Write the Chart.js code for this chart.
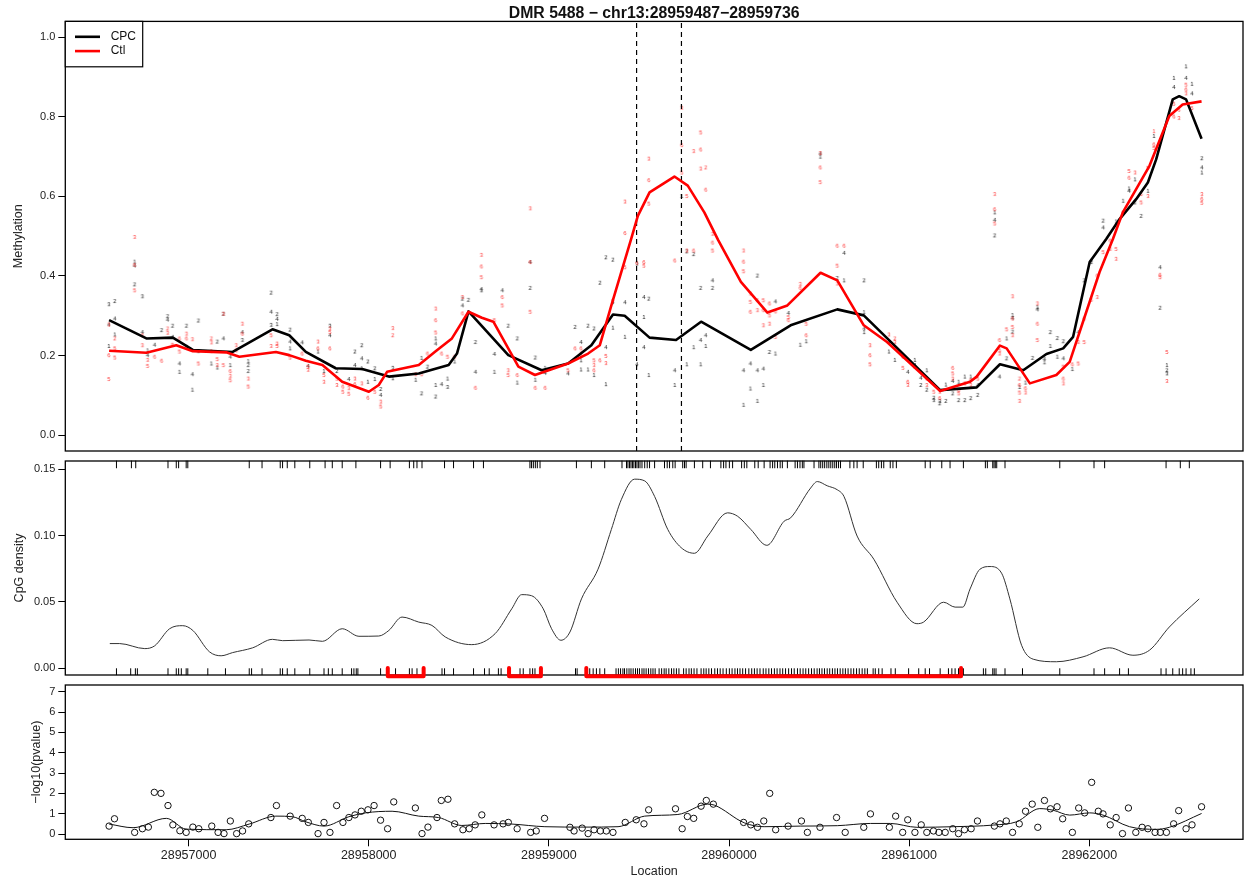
<!DOCTYPE html>
<html><head><meta charset="utf-8">
<script src="https://cdn.jsdelivr.net/npm/chart.js@4.4.0/dist/chart.umd.min.js"></script>
<style>
body{margin:0;background:#fff;width:1248px;height:879px;overflow:hidden;position:relative}
canvas{position:absolute;left:0}
</style>
</head><body>
<canvas id="c1" width="1248" height="456" style="top:0px"></canvas>
<canvas id="c2" width="1248" height="224" style="top:456px"></canvas>
<canvas id="c3" width="1248" height="199" style="top:680px"></canvas>
<script>
// ---------------- DATA ----------------
const titleText = 'DMR 5488 \u2212 chr13:28959487\u221228959736';
const dmrStart = 28959487, dmrEnd = 28959736;
const xTickValues = [28957000, 28958000, 28959000, 28960000, 28961000, 28962000];
const methTicks = [0, 0.2, 0.4, 0.6, 0.8, 1.0];
const methTickLabels = ['0.0', '0.2', '0.4', '0.6', '0.8', '1.0'];
const densTicks = [0, 0.05, 0.10, 0.15];
const densTickLabels = ['0.00', '0.05', '0.10', '0.15'];
const pvalTicks = [0, 1, 2, 3, 4, 5, 6, 7];
const pvalTickLabels = ['0', '1', '2', '3', '4', '5', '6', '7'];
const legendLabels = ['CPC', 'Ctl'];

// smoothed methylation (location, value)
const cpcSmooth = [[28956559,0.289],[28956766,0.243],[28956913,0.245],[28957024,0.214],[28957245,0.209],[28957466,0.266],[28957559,0.251],[28957651,0.209],[28957817,0.168],[28957964,0.166],[28958112,0.147],[28958278,0.155],[28958444,0.176],[28958490,0.205],[28958554,0.311],[28958775,0.201],[28958960,0.163],[28959107,0.180],[28959236,0.226],[28959356,0.303],[28959421,0.300],[28959559,0.245],[28959706,0.239],[28959845,0.285],[28960121,0.214],[28960342,0.276],[28960601,0.316],[28960748,0.301],[28961172,0.113],[28961375,0.120],[28961504,0.178],[28961633,0.163],[28961762,0.204],[28961855,0.218],[28961910,0.247],[28962002,0.435],[28962094,0.493],[28962168,0.543],[28962260,0.593],[28962325,0.635],[28962371,0.693],[28962463,0.844],[28962499,0.852],[28962537,0.844],[28962623,0.745]];
const ctlSmooth = [[28956559,0.212],[28956766,0.207],[28956932,0.226],[28957024,0.211],[28957209,0.208],[28957282,0.197],[28957485,0.209],[28957559,0.201],[28957651,0.187],[28957743,0.176],[28957853,0.134],[28958001,0.109],[28958056,0.126],[28958102,0.159],[28958278,0.176],[28958370,0.210],[28958462,0.243],[28958554,0.310],[28958628,0.295],[28958692,0.285],[28958831,0.172],[28958923,0.151],[28959107,0.180],[28959218,0.205],[28959283,0.226],[28959347,0.326],[28959457,0.493],[28959494,0.551],[28959559,0.610],[28959697,0.650],[28959771,0.627],[28959863,0.560],[28959940,0.490],[28960066,0.385],[28960213,0.308],[28960324,0.326],[28960508,0.408],[28960601,0.389],[28960748,0.276],[28960877,0.234],[28961172,0.111],[28961338,0.134],[28961375,0.147],[28961504,0.225],[28961541,0.218],[28961670,0.130],[28961817,0.151],[28961891,0.184],[28961965,0.285],[28962057,0.410],[28962131,0.493],[28962186,0.560],[28962334,0.677],[28962444,0.802],[28962518,0.831],[28962623,0.839]];

// per-sample values: [location, [values], sample labels]
const cpcSamples = [[28956558,[0.329,0.278,0.224],'341'],[28956591,[0.337,0.293,0.253],'241'],[28956701,[0.436,0.426,0.379],'142'],[28956744,[0.349,0.259],'34'],[28956773,[0.213,0.201],'14'],[28956812,[0.227],'4'],[28956851,[0.264],'2'],[28956884,[0.299,0.290],'24'],[28956912,[0.275,0.247],'24'],[28956950,[0.180,0.159],'41'],[28956989,[0.275,0.222],'23'],[28957022,[0.153,0.114],'41'],[28957055,[0.288,0.211],'23'],[28957127,[0.180],'1'],[28957160,[0.235,0.170],'21'],[28957194,[0.305,0.243],'24'],[28957232,[0.197,0.176],'41'],[28957299,[0.259,0.239],'43'],[28957332,[0.186,0.176,0.161],'122'],[28957459,[0.358,0.310,0.277],'243'],[28957492,[0.304,0.292,0.279],'241'],[28957564,[0.265,0.235,0.218],'241'],[28957631,[0.233],'4'],[28957664,[0.174],'4'],[28957719,[0.210],'1'],[28957752,[0.161],'1'],[28957785,[0.275,0.251],'34'],[28957824,[0.161],'2'],[28957890,[0.141],'4'],[28957924,[0.210,0.176],'24'],[28957962,[0.226,0.193,0.168],'241'],[28957996,[0.185,0.134],'21'],[28958034,[0.168,0.141],'21'],[28958067,[0.116,0.101],'24'],[28958134,[0.169,0.143],'31'],[28958261,[0.139],'1'],[28958294,[0.194,0.105],'12'],[28958327,[0.172],'2'],[28958372,[0.243,0.230,0.126,0.097],'1412'],[28958405,[0.128],'4'],[28958438,[0.142,0.121],'13'],[28958477,[0.185],'1'],[28958521,[0.343,0.326],'24'],[28958554,[0.340],'2'],[28958593,[0.234,0.159],'24'],[28958626,[0.367,0.364],'41'],[28958698,[0.204,0.159],'41'],[28958742,[0.364],'4'],[28958775,[0.275],'2'],[28958825,[0.243,0.132],'21'],[28958897,[0.435,0.370],'42'],[28958925,[0.195,0.139],'21'],[28958980,[0.169,0.156],'14'],[28959107,[0.155],'4'],[28959146,[0.272],'2'],[28959179,[0.234,0.188,0.165],'411'],[28959218,[0.275,0.165],'21'],[28959251,[0.268,0.151],'21'],[28959284,[0.383],'2'],[28959317,[0.447,0.221,0.128],'241'],[28959356,[0.441,0.334,0.270],'241'],[28959423,[0.334,0.247],'41'],[28959489,[0.431,0.178],'34'],[28959528,[0.347,0.297,0.221],'414'],[28959555,[0.343,0.151],'21'],[28959699,[0.163,0.126],'41'],[28959738,[0.601],'1'],[28959766,[0.462,0.178],'21'],[28959804,[0.455,0.221],'21'],[28959843,[0.370,0.239,0.178],'241'],[28959871,[0.251,0.224],'41'],[28959909,[0.389,0.370],'42'],[28960081,[0.163,0.076],'41'],[28960119,[0.180,0.117],'41'],[28960158,[0.401,0.163,0.086],'241'],[28960191,[0.167,0.126],'41'],[28960225,[0.209],'2'],[28960258,[0.336,0.205],'41'],[28960330,[0.307],'4'],[28960396,[0.227],'1'],[28960429,[0.236],'1'],[28960507,[0.708,0.700],'41'],[28960601,[0.395],'2'],[28960639,[0.458,0.389],'41'],[28960750,[0.389,0.309,0.268,0.259],'2141'],[28960888,[0.234,0.210],'41'],[28960921,[0.189],'1'],[28960993,[0.159],'4'],[28961032,[0.189,0.176],'14'],[28961065,[0.144,0.126],'42'],[28961098,[0.163,0.114],'12'],[28961137,[0.094,0.088],'23'],[28961170,[0.086,0.080],'32'],[28961204,[0.127,0.086],'12'],[28961242,[0.136,0.105],'42'],[28961275,[0.134,0.088],'12'],[28961309,[0.147,0.088],'12'],[28961342,[0.147,0.093],'12'],[28961381,[0.126,0.101],'42'],[28961475,[0.560,0.541,0.502],'142'],[28961502,[0.147],'4'],[28961541,[0.243,0.193],'12'],[28961574,[0.302,0.294,0.260],'142'],[28961613,[0.121],'1'],[28961646,[0.132],'1'],[28961685,[0.194],'2'],[28961712,[0.322,0.316],'14'],[28961751,[0.191,0.183],'41'],[28961784,[0.259,0.224],'21'],[28961823,[0.244,0.197],'21'],[28961856,[0.236,0.193],'24'],[28961906,[0.166],'1'],[28961939,[0.259],'4'],[28961972,[0.389],'2'],[28962011,[0.439,0.435],'41'],[28962077,[0.539,0.522],'24'],[28962149,[0.537],'1'],[28962188,[0.589],'1'],[28962221,[0.620,0.614],'14'],[28962254,[0.643,0.585],'12'],[28962288,[0.551],'2'],[28962326,[0.614],'1'],[28962359,[0.752],'1'],[28962393,[0.422,0.320],'42'],[28962431,[0.176,0.163,0.155],'123'],[28962470,[0.898,0.875],'14'],[28962537,[0.927,0.898],'14'],[28962570,[0.883,0.859],'14'],[28962625,[0.696,0.673,0.660],'241']];
const ctlSamples = [[28956558,[0.278,0.201,0.141],'365'],[28956591,[0.243,0.218,0.195],'255'],[28956701,[0.498,0.428,0.364],'365'],[28956744,[0.251,0.226],'63'],[28956773,[0.189,0.174],'35'],[28956812,[0.197],'6'],[28956851,[0.187],'6'],[28956884,[0.268,0.257],'23'],[28956912,[0.227],'5'],[28956950,[0.243,0.210],'65'],[28956989,[0.255,0.243],'36'],[28957022,[0.241],'3'],[28957055,[0.180],'5'],[28957127,[0.243,0.233,0.211],'236'],[28957160,[0.191,0.176],'53'],[28957194,[0.305,0.176],'35'],[28957232,[0.161,0.149,0.138],'635'],[28957265,[0.226,0.213],'36'],[28957299,[0.280,0.255],'36'],[28957332,[0.142,0.122],'35'],[28957459,[0.251,0.224],'53'],[28957492,[0.230,0.224],'35'],[28957564,[0.195],'5'],[28957631,[0.205],'6'],[28957664,[0.172,0.164],'53'],[28957719,[0.235,0.218],'36'],[28957752,[0.151,0.134],'53'],[28957785,[0.268,0.259,0.218],'356'],[28957824,[0.142,0.126],'53'],[28957857,[0.122,0.109],'65'],[28957890,[0.118,0.104],'35'],[28957924,[0.142,0.128],'36'],[28957962,[0.130],'3'],[28957996,[0.094],'6'],[28958034,[0.109],'5'],[28958067,[0.084,0.072],'35'],[28958134,[0.269,0.251],'32'],[28958261,[0.153],'3'],[28958294,[0.153],'5'],[28958327,[0.205],'6'],[28958372,[0.318,0.289,0.258],'365'],[28958405,[0.205],'6'],[28958438,[0.197],'5'],[28958477,[0.197],'6'],[28958521,[0.347,0.306],'36'],[28958593,[0.119],'6'],[28958626,[0.453,0.424,0.397],'365'],[28958698,[0.289],'5'],[28958742,[0.347,0.326],'65'],[28958775,[0.163,0.151],'35'],[28958825,[0.151],'6'],[28958897,[0.570,0.435,0.310],'365'],[28958925,[0.119],'6'],[28958980,[0.119],'6'],[28959107,[0.163],'5'],[28959146,[0.218],'6'],[28959179,[0.218,0.205],'63'],[28959251,[0.188,0.176,0.163],'536'],[28959284,[0.188],'6'],[28959317,[0.199,0.181],'53'],[28959356,[0.339],'6'],[28959423,[0.587,0.508,0.422],'365'],[28959489,[0.433],'6'],[28959528,[0.435,0.426],'65'],[28959555,[0.695,0.641,0.582],'365'],[28959699,[0.439],'6'],[28959738,[0.823,0.729,0.660],'365'],[28959766,[0.601,0.464],'53'],[28959804,[0.714,0.464],'36'],[28959843,[0.761,0.718,0.670],'563'],[28959871,[0.673,0.617],'26'],[28959909,[0.506,0.484,0.464],'365'],[28960081,[0.464,0.436,0.412],'365'],[28960119,[0.356,0.335,0.310],'356'],[28960158,[0.339,0.314],'63'],[28960191,[0.339,0.314,0.276],'563'],[28960225,[0.331,0.301,0.280],'653'],[28960258,[0.311,0.247],'65'],[28960330,[0.297,0.289],'56'],[28960396,[0.380,0.370],'36'],[28960429,[0.280,0.251],'56'],[28960507,[0.709,0.673,0.636],'365'],[28960601,[0.476,0.426,0.381],'653'],[28960639,[0.476],'6'],[28960783,[0.226,0.201,0.178],'365'],[28960888,[0.253],'3'],[28960921,[0.243,0.234],'23'],[28960966,[0.197,0.169],'65'],[28960993,[0.134,0.126],'63'],[28961032,[0.172],'5'],[28961098,[0.142,0.126],'63'],[28961137,[0.109],'5'],[28961170,[0.109,0.093],'36'],[28961242,[0.169,0.155,0.142],'653'],[28961275,[0.113,0.105],'65'],[28961309,[0.130],'3'],[28961342,[0.138,0.126],'63'],[28961381,[0.142],'5'],[28961475,[0.606,0.568,0.532],'365'],[28961502,[0.239,0.213,0.205],'653'],[28961541,[0.266],'5'],[28961574,[0.349,0.293,0.272,0.251],'3653'],[28961613,[0.142,0.126,0.107,0.086],'2653'],[28961646,[0.118,0.107],'63'],[28961712,[0.331,0.280,0.239],'365'],[28961856,[0.172,0.142,0.130],'563'],[28961906,[0.178],'6'],[28961939,[0.234,0.180],'35'],[28961972,[0.293,0.234],'65'],[28962011,[0.340],'5'],[28962044,[0.401,0.347],'63'],[28962077,[0.460],'5'],[28962116,[0.489,0.468],'63'],[28962149,[0.468,0.443],'53'],[28962188,[0.560],'6'],[28962221,[0.664,0.647],'56'],[28962254,[0.660],'3'],[28962288,[0.606,0.585],'65'],[28962326,[0.672,0.601],'53'],[28962359,[0.764,0.731,0.722],'165'],[28962393,[0.403,0.397],'65'],[28962431,[0.209,0.136],'53'],[28962470,[0.833,0.801],'56'],[28962498,[0.818,0.797],'63'],[28962537,[0.881,0.869,0.859],'563'],[28962570,[0.822],'5'],[28962625,[0.606,0.594,0.584],'365']];

// CpG density
const densityCurve = [[28956563,0.0185],[28956618,0.0185],[28956757,0.0147],[28956812,0.0168],[28956895,0.0297],[28956968,0.032],[28957024,0.0284],[28957116,0.0123],[28957181,0.0093],[28957245,0.0117],[28957356,0.0153],[28957466,0.0217],[28957522,0.0207],[28957669,0.0212],[28957743,0.0202],[28957853,0.0297],[28957946,0.024],[28958056,0.0242],[28958112,0.0284],[28958185,0.0385],[28958278,0.0347],[28958351,0.0322],[28958425,0.0235],[28958572,0.0177],[28958702,0.026],[28958794,0.0447],[28958849,0.0554],[28958904,0.0546],[28958969,0.0447],[28959015,0.0297],[28959067,0.021],[28959117,0.0272],[28959181,0.0522],[28959273,0.0746],[28959347,0.1046],[28959402,0.127],[28959476,0.1425],[28959532,0.1412],[28959587,0.1295],[28959660,0.1046],[28959734,0.0909],[28959808,0.0866],[28959882,0.0996],[28959992,0.1171],[28960048,0.1145],[28960121,0.1046],[28960210,0.0926],[28960306,0.1108],[28960342,0.1133],[28960453,0.1358],[28960490,0.1407],[28960545,0.1375],[28960601,0.1345],[28960638,0.1295],[28960711,0.0996],[28960804,0.0821],[28960933,0.0497],[28961043,0.0335],[28961080,0.0347],[28961191,0.0497],[28961255,0.046],[28961298,0.046],[28961338,0.0597],[28961393,0.0746],[28961449,0.0766],[28961513,0.0716],[28961559,0.0522],[28961624,0.0172],[28961689,0.0067],[28961817,0.0048],[28961965,0.0085],[28962112,0.0153],[28962242,0.0097],[28962334,0.0135],[28962444,0.031],[28962610,0.0522]];
const rugTop = [28956600,28956683,28956707,28956886,28956932,28956945,28956987,28956996,28957337,28957408,28957509,28957522,28957548,28957590,28957673,28957758,28957798,28957853,28957929,28958066,28958119,28958226,28958250,28958268,28958296,28958421,28958471,28958582,28958637,28958895,28958904,28958914,28958925,28958936,28958951,28959153,28959236,28959310,28959406,28959431,28959439,28959448,28959456,28959464,28959472,28959481,28959489,28959497,28959506,28959517,28959532,28959546,28959559,28959587,28959642,28959657,28959670,28959688,28959701,28959743,28959753,28959762,28959808,28959854,28959897,28959955,28959970,28959983,28960002,28960020,28960070,28960085,28960099,28960143,28960162,28960195,28960228,28960242,28960254,28960269,28960284,28960296,28960324,28960367,28960380,28960394,28960407,28960416,28960472,28960499,28960509,28960520,28960531,28960543,28960554,28960565,28960576,28960587,28960597,28960608,28960619,28960671,28960693,28960711,28960745,28960818,28960831,28960846,28960859,28960895,28960910,28960929,28961089,28961117,28961181,28961227,28961301,28961423,28961434,28961464,28961471,28961478,28961486,28961532,28961836,28962026,28962085,28962426,28962505,28962555];
const rugBottom = [28956600,28956679,28956705,28956716,28956886,28956932,28956945,28956960,28956987,28956996,28957107,28957205,28957337,28957350,28957408,28957509,28957522,28957548,28957590,28957673,28957752,28957776,28957798,28957853,28957905,28957918,28957931,28957940,28958066,28958149,28958226,28958241,28958268,28958407,28958421,28958471,28958582,28958643,28958669,28958720,28958735,28958840,28958858,28958895,28958910,28958923,28959148,28959157,28959227,28959246,28959264,28959283,28959310,28959373,28959386,28959398,28959411,28959420,28959433,28959445,28959456,28959468,28959481,28959492,28959503,28959517,28959528,28959540,28959553,28959566,28959578,28959590,28959612,28959626,28959640,28959651,28959666,28959681,28959694,28959708,28959722,28959748,28959762,28959778,28959791,28959806,28959822,28959845,28959860,28959873,28959888,28959903,28959921,28959936,28959951,28959967,28959985,28960002,28960017,28960033,28960047,28960061,28960076,28960092,28960110,28960126,28960141,28960156,28960172,28960190,28960205,28960221,28960236,28960252,28960267,28960283,28960298,28960314,28960331,28960347,28960362,28960380,28960395,28960411,28960426,28960442,28960458,28960473,28960489,28960502,28960516,28960530,28960545,28960559,28960574,28960588,28960602,28960617,28960632,28960646,28960661,28960677,28960692,28960708,28960723,28960739,28960754,28960768,28960800,28960812,28960831,28960850,28960899,28960923,28960997,28961053,28961089,28961113,28961172,28961218,28961237,28961255,28961274,28961301,28961412,28961425,28961464,28961472,28961482,28961532,28961629,28961836,28962026,28962085,28962168,28962217,28962398,28962426,28962463,28962499,28962518,28962537,28962564,28962583];
const islandStart = [28958106, 28958779, 28959208];
const islandEnd = [28958305, 28958956, 28961288];

// -log10(pvalue)
const pvalLoc = [28956559,28956589,28956701,28956744,28956777,28956810,28956847,28956886,28956913,28956952,28956987,28957024,28957057,28957129,28957164,28957197,28957232,28957267,28957300,28957334,28957457,28957488,28957564,28957631,28957665,28957719,28957752,28957785,28957822,28957857,28957890,28957924,28957959,28957996,28958030,28958066,28958105,28958139,28958259,28958296,28958329,28958379,28958403,28958440,28958477,28958523,28958558,28958591,28958628,28958696,28958746,28958775,28958824,28958899,28958930,28958976,28959117,28959140,28959185,28959218,28959251,28959286,28959319,28959356,28959424,28959485,28959528,28959554,28959703,28959740,28959769,28959804,28959845,28959874,28959913,28960081,28960121,28960158,28960193,28960226,28960259,28960328,28960402,28960435,28960505,28960597,28960645,28960748,28960785,28960890,28960925,28960964,28960992,28961032,28961067,28961098,28961135,28961165,28961200,28961242,28961274,28961307,28961344,28961379,28961473,28961504,28961539,28961574,28961611,28961646,28961683,28961714,28961751,28961784,28961821,28961852,28961906,28961941,28961974,28962013,28962050,28962076,28962116,28962149,28962184,28962217,28962258,28962293,28962325,28962365,28962394,28962428,28962468,28962496,28962537,28962570,28962623];
const pvalValue = [0.39,0.75,0.08,0.26,0.34,2.05,2.00,1.40,0.45,0.16,0.08,0.34,0.26,0.39,0.08,0.02,0.64,0.02,0.15,0.50,0.81,1.40,0.88,0.77,0.57,0.02,0.57,0.08,1.40,0.57,0.81,0.94,1.12,1.19,1.40,0.68,0.26,1.58,1.28,0.02,0.34,0.81,1.65,1.71,0.50,0.21,0.26,0.45,0.94,0.45,0.50,0.57,0.26,0.08,0.15,0.77,0.33,0.15,0.29,0.02,0.21,0.15,0.15,0.08,0.57,0.70,0.50,1.19,1.24,0.26,0.86,0.77,1.37,1.65,1.47,0.57,0.45,0.33,0.64,2.00,0.21,0.39,0.64,0.08,0.33,0.81,0.08,0.33,0.99,0.33,0.88,0.08,0.70,0.08,0.45,0.08,0.15,0.08,0.08,0.26,0.02,0.21,0.26,0.64,0.39,0.50,0.64,0.08,0.50,1.12,1.47,0.33,1.65,1.24,1.34,0.75,0.08,1.28,1.04,2.54,1.12,0.99,0.45,0.81,0.02,1.28,0.08,0.33,0.26,0.08,0.08,0.08,0.50,1.15,0.26,0.45,1.34];
const pvalSmooth = [[28956559,0.49],[28956692,0.31],[28956877,0.77],[28956987,0.24],[28957209,0.21],[28957337,0.49],[28957485,0.88],[28957577,0.85],[28957651,0.60],[28957752,0.39],[28957890,0.85],[28957983,1.04],[28958130,1.12],[28958278,0.88],[28958388,0.81],[28958517,0.42],[28958647,0.52],[28958794,0.49],[28958978,0.36],[28959200,0.34],[28959384,0.36],[28959532,0.88],[28959716,0.96],[28959882,1.47],[28959919,1.42],[28960085,0.55],[28960195,0.36],[28960398,0.39],[28960601,0.41],[28960785,0.52],[28960896,0.52],[28961043,0.33],[28961246,0.36],[28961467,0.44],[28961596,0.60],[28961725,1.25],[28961799,1.17],[28961891,0.93],[28962002,1.04],[28962076,0.93],[28962223,0.36],[28962371,0.23],[28962444,0.33],[28962623,1.01]];

// ---------------- STYLE / HELPERS ----------------
const FONT = "'Liberation Sans', Arial, Helvetica, sans-serif";
const XMIN = 28956316, XMAX = 28962853;
const RED = '#ff0000';
Chart.defaults.font.family = FONT;
Chart.defaults.font.size = 11;
Chart.defaults.color = '#222';
Chart.defaults.animation = false;

const toXY = arr => arr.map(p => ({x: p[0], y: p[1]}));
const expandSamples = arr => {
  const out = [];
  arr.forEach(s => s[1].forEach((v, i) => out.push({x: s[0], y: v, lab: s[2][i]})));
  return out;
};
const digitCache = {};
function digitImage(ch, color) {
  const key = color + ch;
  if (!digitCache[key]) {
    const c = document.createElement('canvas');
    c.width = 6; c.height = 8;
    const g = c.getContext('2d');
    g.font = '6px ' + FONT;
    g.fillStyle = color;
    g.textAlign = 'center';
    g.textBaseline = 'middle';
    g.fillText(ch, 3, 4);
    digitCache[key] = c;
  }
  return digitCache[key];
}

const boxPlugin = {
  id: 'rbox',
  beforeDatasetsDraw(chart) {
    const {ctx, chartArea: a} = chart;
    ctx.save();
    ctx.strokeStyle = '#000';
    ctx.lineWidth = 1.3;
    ctx.strokeRect(a.left, a.top, a.right - a.left, a.bottom - a.top);
    ctx.restore();
  }
};
const legendPlugin = {
  id: 'rlegend',
  afterDraw(chart) {
    if (!chart.options.plugins.rlegend || !chart.options.plugins.rlegend.show) return;
    const {ctx, chartArea: a} = chart;
    const x0 = a.left, y0 = a.top, w = 77.4, h = 45.4;
    ctx.save();
    ctx.fillStyle = '#fff';
    ctx.fillRect(x0, y0, w, h);
    ctx.strokeStyle = '#000';
    ctx.lineWidth = 1.2;
    ctx.strokeRect(x0, y0, w, h);
    legendLabels.forEach((lab, i) => {
      const ds = chart.data.datasets.find(d => d.label === lab);
      const y = y0 + 15.4 + i * 14.3;
      ctx.strokeStyle = ds.borderColor;
      ctx.lineWidth = 2.6;
      ctx.beginPath(); ctx.moveTo(x0 + 9.7, y); ctx.lineTo(x0 + 34.7, y); ctx.stroke();
      ctx.fillStyle = '#111';
      ctx.font = '12px ' + FONT;
      ctx.textBaseline = 'middle';
      ctx.textAlign = 'left';
      ctx.fillText(lab, x0 + 45.4, y);
    });
    ctx.restore();
  }
};

function xScale(show) {
  return {
    type: 'linear', min: XMIN, max: XMAX, display: show,
    afterBuildTicks: s => { s.ticks = xTickValues.map(v => ({value: v})); },
    afterFit: s => { if (show) s.height = 39.7; s.paddingLeft = 0; s.paddingRight = 0; },
    ticks: {callback: v => String(v), padding: 1.7, maxRotation: 0, autoSkip: false, color: '#222', font: {size: 12.5}},
    grid: {drawOnChartArea: false, drawTicks: true, tickLength: 7, color: '#000', lineWidth: 1},
    border: {display: false},
    title: {display: show, text: 'Location', color: '#222', font: {size: 12.5}, padding: {top: 0, bottom: 0}}
  };
}
function yScale(min, max, vals, labels, title, titlePad) {
  return {
    type: 'linear', min: min, max: max,
    afterFit: s => { s.width = 65.3; s.paddingTop = 0; s.paddingBottom = 0; },
    afterBuildTicks: s => { s.ticks = vals.map(v => ({value: v})); },
    ticks: {callback: (v, i) => labels[i], padding: 3, color: '#222', font: {size: 11}},
    grid: {drawOnChartArea: false, drawTicks: true, tickLength: 7, color: '#000', lineWidth: 1},
    border: {display: false},
    title: {display: true, text: title, color: '#222', font: {size: 12.5}, padding: {top: titlePad, bottom: 0}}
  };
}
const basePlugins = {legend: {display: false}, tooltip: {enabled: false}};

// ---------------- PANEL 1: methylation ----------------
new Chart(document.getElementById('c1'), {
  type: 'scatter',
  data: {datasets: [
    {type: 'line', label: 'Ctl', data: toXY(ctlSmooth), borderColor: RED, borderWidth: 2.6, pointRadius: 0, tension: 0, borderJoinStyle: 'round'},
    {type: 'line', label: 'CPC', data: toXY(cpcSmooth), borderColor: '#000', borderWidth: 2.6, pointRadius: 0, tension: 0, borderJoinStyle: 'round'},
    {type: 'line', label: 'dmrStart', data: [{x: dmrStart, y: -0.04}, {x: dmrStart, y: 1.04}], borderColor: '#000', borderWidth: 1.2, borderDash: [5, 4], pointRadius: 0},
    {type: 'line', label: 'dmrEnd', data: [{x: dmrEnd, y: -0.04}, {x: dmrEnd, y: 1.04}], borderColor: '#000', borderWidth: 1.2, borderDash: [5, 4], pointRadius: 0},
    {type: 'scatter', label: 'Ctl samples', data: expandSamples(ctlSamples), pointStyle: c => digitImage(c.raw ? c.raw.lab : '1', 'rgb(255,60,60)'), pointRadius: 3},
    {type: 'scatter', label: 'CPC samples', data: expandSamples(cpcSamples), pointStyle: c => digitImage(c.raw ? c.raw.lab : '1', '#222'), pointRadius: 3}
  ]},
  options: {
    responsive: false, events: [],
    layout: {padding: {top: 0, right: 0.7, bottom: 3.7, left: 0}},
    scales: {x: xScale(false), y: yScale(-0.04, 1.04, methTicks, methTickLabels, 'Methylation', 11.5)},
    plugins: Object.assign({}, basePlugins, {
      rlegend: {show: true},
      title: {display: true, text: titleText, fullSize: false, color: '#111', font: {size: 15.8, weight: 'bold', lineHeight: 1.0}, padding: {top: 5.6, bottom: 0}}
    })
  },
  plugins: [boxPlugin, legendPlugin]
});

// ---------------- PANEL 2: CpG density ----------------
const islandData = [];
islandStart.forEach((s, i) => {
  islandData.push({x: s, y: 0}, {x: s, y: -0.0062}, {x: islandEnd[i], y: -0.0062}, {x: islandEnd[i], y: 0}, {x: islandEnd[i], y: null});
});
new Chart(document.getElementById('c2'), {
  type: 'scatter',
  data: {datasets: [
    {type: 'line', label: 'islands', data: islandData, borderColor: RED, borderWidth: 4, pointRadius: 0, spanGaps: false, clip: false, borderJoinStyle: 'round', borderCapStyle: 'round'},
    {type: 'line', label: 'density', data: toXY(densityCurve), borderColor: '#333', borderWidth: 1, pointRadius: 0, cubicInterpolationMode: 'monotone'},
    {type: 'scatter', label: 'rugTop', data: rugTop.map(v => ({x: v, y: 0.1536})), pointStyle: 'line', pointRotation: 90, pointRadius: 3.8, pointBorderColor: '#000', pointBorderWidth: 1, clip: false},
    {type: 'scatter', label: 'rugBottom', data: rugBottom.map(v => ({x: v, y: -0.0027})), pointStyle: 'line', pointRotation: 90, pointRadius: 3.4, pointBorderColor: '#000', pointBorderWidth: 1, clip: false}
  ]},
  options: {
    responsive: false, events: [],
    layout: {padding: {top: 4.7, right: 0.7, bottom: 3.3, left: 0}},
    scales: {x: xScale(false), y: yScale(-0.0052, 0.1562, densTicks, densTickLabels, 'CpG density', 12)},
    plugins: basePlugins
  },
  plugins: [boxPlugin]
});

// ---------------- PANEL 3: p-values ----------------
new Chart(document.getElementById('c3'), {
  type: 'scatter',
  data: {datasets: [
    {type: 'line', label: 'smooth', data: toXY(pvalSmooth), borderColor: '#111', borderWidth: 1, pointRadius: 0, cubicInterpolationMode: 'monotone'},
    {type: 'scatter', label: 'pvalue', data: pvalLoc.map((x, i) => ({x: x, y: pvalValue[i]})), pointStyle: 'circle', pointRadius: 3.2, pointBorderColor: '#111', pointBackgroundColor: 'rgba(0,0,0,0)', pointBorderWidth: 1}
  ]},
  options: {
    responsive: false, events: [],
    layout: {padding: {top: 4, right: 0.7, bottom: 0, left: 0}},
    scales: {x: xScale(true), y: yScale(-0.26, 7.33, pvalTicks, pvalTickLabels, '\u2212log10(pvalue)', 29.2)},
    plugins: basePlugins
  },
  plugins: [boxPlugin]
});
</script>
</body></html>
